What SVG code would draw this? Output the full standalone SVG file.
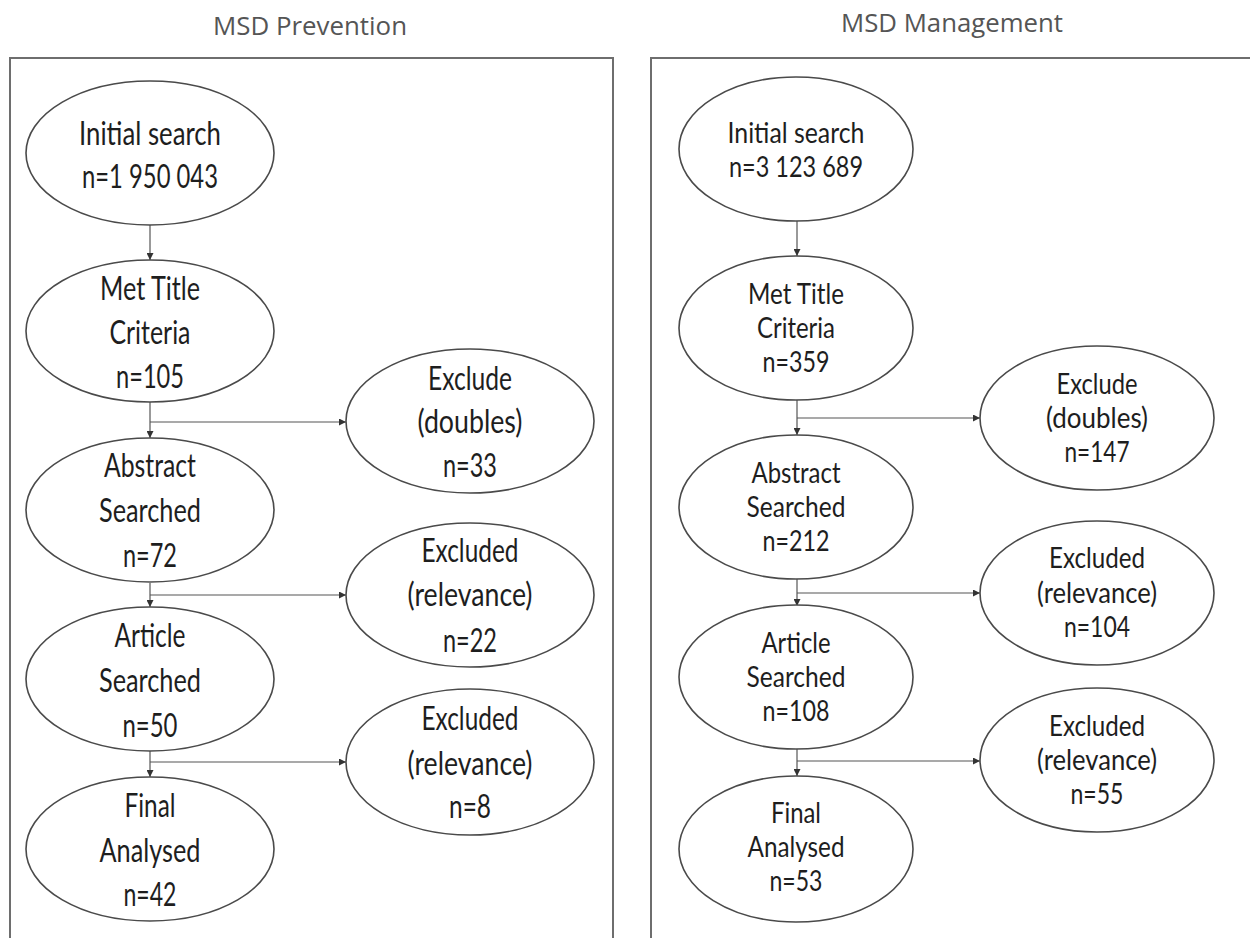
<svg xmlns="http://www.w3.org/2000/svg" width="1250" height="938" viewBox="0 0 1250 938">
  <defs>
    <marker id="arrow" viewBox="0 0 8 8" refX="8" refY="4" markerWidth="7" markerHeight="7" markerUnits="userSpaceOnUse" orient="auto">
      <path d="M0,0 L8,4 L0,8 z" fill="#333"/>
    </marker>
    <style>
      .panel { fill: #ffffff; stroke: #6e6e6e; stroke-width: 2; }
      .node ellipse { fill: #ffffff; stroke: #4a4a4a; stroke-width: 1.6; }
      .title { font-family: "Open Sans", "Liberation Sans", sans-serif; font-size: 25px; fill: #555; text-anchor: middle; }
      .lbl { font-family: Lato, "Liberation Sans", sans-serif; fill: #1e1e1e; text-anchor: middle; }
      .big { font-size: 32px; }
      .small { font-size: 28px; }
      .conn path { fill: none; stroke: #555; stroke-width: 1.2; marker-end: url(#arrow); }
    </style>
  </defs>

  <rect width="1250" height="938" fill="#ffffff"/>

  <!-- panel titles and frames -->
  <text class="title" x="310" y="35" textLength="194" lengthAdjust="spacingAndGlyphs">MSD Prevention</text>
  <text class="title" x="952" y="32" textLength="222" lengthAdjust="spacingAndGlyphs">MSD Management</text>
  <rect class="panel" x="10" y="58" width="603" height="900"/>
  <rect class="panel" x="651" y="58" width="620" height="900"/>

  <!-- connectors -->
  <g id="connectors" class="conn">
    <!-- prevention -->
    <path d="M150,225 V260"/>
    <path d="M150,402 V438"/>
    <path d="M150,422 H346"/>
    <path d="M150,583 V607"/>
    <path d="M150,595 H346"/>
    <path d="M150,750 V777"/>
    <path d="M150,762 H346"/>
    <!-- management -->
    <path d="M797,221 V256"/>
    <path d="M797,400 V435"/>
    <path d="M797,418 H980"/>
    <path d="M797,579 V606"/>
    <path d="M797,593 H980"/>
    <path d="M797,749 V776"/>
    <path d="M797,761 H980"/>
  </g>

  <!-- MSD Prevention nodes -->
  <g id="p-initial" class="node">
    <ellipse cx="150" cy="153" rx="124" ry="72"/>
    <text class="lbl big" x="150" y="145" textLength="142" lengthAdjust="spacingAndGlyphs">Initial search</text>
    <text class="lbl big" x="150" y="188" textLength="136" lengthAdjust="spacingAndGlyphs">n=1 950 043</text>
  </g>
  <g id="p-title" class="node">
    <ellipse cx="150" cy="331" rx="124" ry="71"/>
    <text class="lbl big" x="150" y="300" textLength="100" lengthAdjust="spacingAndGlyphs">Met Title</text>
    <text class="lbl big" x="150" y="344" textLength="81" lengthAdjust="spacingAndGlyphs">Criteria</text>
    <text class="lbl big" x="150" y="388" textLength="68" lengthAdjust="spacingAndGlyphs">n=105</text>
  </g>
  <g id="p-doubles" class="node">
    <ellipse cx="470" cy="421" rx="124" ry="72"/>
    <text class="lbl big" x="470" y="390" textLength="84" lengthAdjust="spacingAndGlyphs">Exclude</text>
    <text class="lbl big" x="470" y="433" textLength="105" lengthAdjust="spacingAndGlyphs">(doubles)</text>
    <text class="lbl big" x="470" y="477" textLength="54" lengthAdjust="spacingAndGlyphs">n=33</text>
  </g>
  <g id="p-abstract" class="node">
    <ellipse cx="150" cy="510" rx="124" ry="72"/>
    <text class="lbl big" x="150" y="477" textLength="92" lengthAdjust="spacingAndGlyphs">Abstract</text>
    <text class="lbl big" x="150" y="522" textLength="102" lengthAdjust="spacingAndGlyphs">Searched</text>
    <text class="lbl big" x="150" y="567" textLength="54" lengthAdjust="spacingAndGlyphs">n=72</text>
  </g>
  <g id="p-relevance1" class="node">
    <ellipse cx="470" cy="595" rx="124" ry="72"/>
    <text class="lbl big" x="470" y="562" textLength="97" lengthAdjust="spacingAndGlyphs">Excluded</text>
    <text class="lbl big" x="470" y="606" textLength="125" lengthAdjust="spacingAndGlyphs">(relevance)</text>
    <text class="lbl big" x="470" y="652" textLength="54" lengthAdjust="spacingAndGlyphs">n=22</text>
  </g>
  <g id="p-article" class="node">
    <ellipse cx="150" cy="679" rx="124" ry="72"/>
    <text class="lbl big" x="150" y="647" textLength="71" lengthAdjust="spacingAndGlyphs">Article</text>
    <text class="lbl big" x="150" y="692" textLength="102" lengthAdjust="spacingAndGlyphs">Searched</text>
    <text class="lbl big" x="150" y="737" textLength="55" lengthAdjust="spacingAndGlyphs">n=50</text>
  </g>
  <g id="p-relevance2" class="node">
    <ellipse cx="470" cy="762" rx="124" ry="73"/>
    <text class="lbl big" x="470" y="730" textLength="97" lengthAdjust="spacingAndGlyphs">Excluded</text>
    <text class="lbl big" x="470" y="775" textLength="125" lengthAdjust="spacingAndGlyphs">(relevance)</text>
    <text class="lbl big" x="470" y="818" textLength="42" lengthAdjust="spacingAndGlyphs">n=8</text>
  </g>
  <g id="p-final" class="node">
    <ellipse cx="150" cy="849" rx="124" ry="72"/>
    <text class="lbl big" x="150" y="817" textLength="51" lengthAdjust="spacingAndGlyphs">Final</text>
    <text class="lbl big" x="150" y="862" textLength="101" lengthAdjust="spacingAndGlyphs">Analysed</text>
    <text class="lbl big" x="150" y="906" textLength="53" lengthAdjust="spacingAndGlyphs">n=42</text>
  </g>

  <!-- MSD Management nodes -->
  <g id="m-initial" class="node">
    <ellipse cx="796" cy="149" rx="117" ry="72"/>
    <text class="lbl small" x="796" y="143" textLength="137" lengthAdjust="spacingAndGlyphs">Initial search</text>
    <text class="lbl small" x="796" y="177" textLength="134" lengthAdjust="spacingAndGlyphs">n=3 123 689</text>
  </g>
  <g id="m-title" class="node">
    <ellipse cx="796" cy="328" rx="117" ry="72"/>
    <text class="lbl small" x="796" y="304" textLength="96" lengthAdjust="spacingAndGlyphs">Met Title</text>
    <text class="lbl small" x="796" y="338" textLength="78" lengthAdjust="spacingAndGlyphs">Criteria</text>
    <text class="lbl small" x="796" y="372" textLength="67" lengthAdjust="spacingAndGlyphs">n=359</text>
  </g>
  <g id="m-doubles" class="node">
    <ellipse cx="1097" cy="418" rx="117" ry="72"/>
    <text class="lbl small" x="1097" y="394" textLength="81" lengthAdjust="spacingAndGlyphs">Exclude</text>
    <text class="lbl small" x="1097" y="428" textLength="102" lengthAdjust="spacingAndGlyphs">(doubles)</text>
    <text class="lbl small" x="1097" y="462" textLength="65" lengthAdjust="spacingAndGlyphs">n=147</text>
  </g>
  <g id="m-abstract" class="node">
    <ellipse cx="796" cy="507" rx="117" ry="72"/>
    <text class="lbl small" x="796" y="483" textLength="89" lengthAdjust="spacingAndGlyphs">Abstract</text>
    <text class="lbl small" x="796" y="517" textLength="99" lengthAdjust="spacingAndGlyphs">Searched</text>
    <text class="lbl small" x="796" y="551" textLength="67" lengthAdjust="spacingAndGlyphs">n=212</text>
  </g>
  <g id="m-relevance1" class="node">
    <ellipse cx="1097" cy="593" rx="117" ry="72"/>
    <text class="lbl small" x="1097" y="568" textLength="96" lengthAdjust="spacingAndGlyphs">Excluded</text>
    <text class="lbl small" x="1097" y="603" textLength="120" lengthAdjust="spacingAndGlyphs">(relevance)</text>
    <text class="lbl small" x="1097" y="637" textLength="66" lengthAdjust="spacingAndGlyphs">n=104</text>
  </g>
  <g id="m-article" class="node">
    <ellipse cx="796" cy="677" rx="117" ry="72"/>
    <text class="lbl small" x="796" y="653" textLength="69" lengthAdjust="spacingAndGlyphs">Article</text>
    <text class="lbl small" x="796" y="687" textLength="99" lengthAdjust="spacingAndGlyphs">Searched</text>
    <text class="lbl small" x="796" y="721" textLength="67" lengthAdjust="spacingAndGlyphs">n=108</text>
  </g>
  <g id="m-relevance2" class="node">
    <ellipse cx="1097" cy="760" rx="117" ry="72"/>
    <text class="lbl small" x="1097" y="736" textLength="96" lengthAdjust="spacingAndGlyphs">Excluded</text>
    <text class="lbl small" x="1097" y="770" textLength="120" lengthAdjust="spacingAndGlyphs">(relevance)</text>
    <text class="lbl small" x="1097" y="804" textLength="53" lengthAdjust="spacingAndGlyphs">n=55</text>
  </g>
  <g id="m-final" class="node">
    <ellipse cx="796" cy="849" rx="117" ry="73"/>
    <text class="lbl small" x="796" y="823" textLength="50" lengthAdjust="spacingAndGlyphs">Final</text>
    <text class="lbl small" x="796" y="857" textLength="97" lengthAdjust="spacingAndGlyphs">Analysed</text>
    <text class="lbl small" x="796" y="891" textLength="53" lengthAdjust="spacingAndGlyphs">n=53</text>
  </g>
</svg>
